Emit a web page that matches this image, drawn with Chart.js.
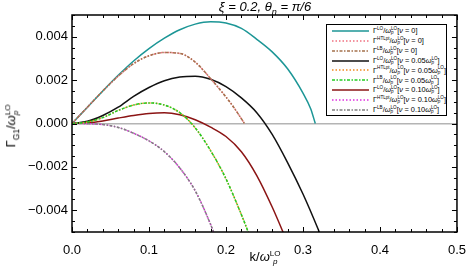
<!DOCTYPE html>
<html>
<head>
<meta charset="utf-8">
<script src="https://cdn.jsdelivr.net/npm/chart.js@4"></script>
<style>
  body { margin: 0; background: #fff; }
  #wrap { position: relative; width: 469px; height: 273px; font-family: "Liberation Sans", Arial, sans-serif; color: #000; }
  #title { position: absolute; left: 72px; width: 386px; top: -1px; text-align: center; font-size: 13px; font-style: italic; }
  #xtitle { position: absolute; left: 72px; width: 386px; top: 249px; text-align: center; font-size: 13px; }
  #ytitle { position: absolute; left: 12px; top: 126px; font-size: 13px; white-space: nowrap; transform: translate(-50%, -50%) rotate(-90deg); }
  .ss { display: inline-flex; flex-direction: column; vertical-align: middle; font-size: 0.62em; line-height: 0.95; }
  .ss i { font-style: italic; }
  #legend { position: absolute; left: 326px; top: 24px; width: 119px; height: 90px; border: 1px solid #000; background: #fff; font-size: 7.4px; }
  .row { position: absolute; left: 0; height: 10px; display: flex; align-items: center; white-space: nowrap; }
  .row svg { margin-left: 5px; margin-right: 4px; }
</style>
</head>
<body>
<div id="wrap">
  <canvas id="chart" width="469" height="273"></canvas>
  <div id="title">ξ = 0.2, θ<sub style="font-size:0.7em">n</sub> = π/6</div>
  <div id="xtitle">k/<i>ω</i><span class="ss"><span>LO</span><i>p</i></span></div>
  <div id="ytitle">Γ<sub style="font-size:0.65em">G1</sub>/<i>ω</i><span class="ss"><span>LO</span><i>p</i></span></div>
  <div id="legend"></div>
</div>
<script>
// k / omega_p^LO grids and Gamma / omega_p^LO values
const kLO0 = [0, 0.02, 0.04, 0.06, 0.08, 0.10, 0.12, 0.14, 0.16, 0.18, 0.20, 0.22, 0.24, 0.26, 0.28, 0.30, 0.31, 0.316];
const gLO0 = [0, 0.00075, 0.0015, 0.00222, 0.00288, 0.00345, 0.00393, 0.00432, 0.00458, 0.00469, 0.00463, 0.00438, 0.00388, 0.00330, 0.00252, 0.00140, 0.00068, 0];

const kLB0 = [0, 0.02, 0.04, 0.06, 0.08, 0.10, 0.12, 0.14, 0.16, 0.18, 0.20, 0.21, 0.22, 0.224];
const gLB0 = [0, 0.00075, 0.0015, 0.00218, 0.00276, 0.00312, 0.00327, 0.00323, 0.00283, 0.00207, 0.00122, 0.00075, 0.00022, 0];

const kLO05 = [0, 0.02, 0.04, 0.06, 0.08, 0.10, 0.12, 0.14, 0.16, 0.18, 0.20, 0.22, 0.24, 0.26, 0.28, 0.30, 0.32, 0.33];
const gLO05 = [0, 0.0001, 0.00037, 0.00075, 0.00125, 0.00166, 0.00197, 0.00214, 0.00218, 0.00204, 0.00170, 0.00118, 0.00050, -0.00050, -0.00180, -0.00325, -0.00490, -0.0058];

const kLB05 = [0, 0.02, 0.04, 0.06, 0.08, 0.10, 0.12, 0.14, 0.16, 0.18, 0.20, 0.22, 0.23];
const gLB05 = [0, 0.00007, 0.00027, 0.00060, 0.00085, 0.00095, 0.00085, 0.00050, -0.00020, -0.00125, -0.00255, -0.00420, -0.0051];

const kLO10 = [0, 0.02, 0.04, 0.06, 0.08, 0.10, 0.12, 0.14, 0.16, 0.18, 0.20, 0.22, 0.24, 0.26, 0.28];
const gLO10 = [0, 0.00003, 0.00012, 0.00025, 0.00037, 0.00046, 0.00049, 0.00040, 0.00017, -0.00017, -0.00060, -0.00130, -0.00240, -0.00385, -0.0055];

const kLB10 = [0, 0.02, 0.04, 0.06, 0.08, 0.10, 0.12, 0.14, 0.16, 0.18, 0.19];
const gLB10 = [0, -0.00001, -0.00005, -0.00018, -0.00045, -0.00080, -0.00130, -0.00205, -0.00310, -0.00465, -0.0056];

// HTLpt curves lie under the LB ones
const xTicks = [0.0, 0.1, 0.2, 0.3, 0.4, 0.5];
const yTicks = [-0.004, -0.002, 0.000, 0.002, 0.004];

const LO = '<span class="ss"><span>LO</span><i>p</i></span>';
const series = [
  { name: 'LO',    nu: '0',     k: kLO0,  g: gLO0,  color: '#1c9696', dash: [],               order: 2 },
  { name: 'HTLpt', nu: '0',     k: kLB0,  g: gLB0,  color: '#f07080', dash: [1.5, 2],         order: 1 },
  { name: 'LB',    nu: '0',     k: kLB0,  g: gLB0,  color: '#a4714c', dash: [3, 1.5, 1.5, 1.5], order: 0 },
  { name: 'LO',    nu: '0.05',  k: kLO05, g: gLO05, color: '#111111', dash: [],               order: 2 },
  { name: 'HTLpt', nu: '0.05',  k: kLB05, g: gLB05, color: '#f08a20', dash: [1.5, 2],         order: 1 },
  { name: 'LB',    nu: '0.05',  k: kLB05, g: gLB05, color: '#22cc22', dash: [3, 1.5, 1.5, 1.5], order: 0 },
  { name: 'LO',    nu: '0.10',  k: kLO10, g: gLO10, color: '#8b1414', dash: [],               order: 2 },
  { name: 'HTLpt', nu: '0.10',  k: kLB10, g: gLB10, color: '#e030e0', dash: [1.5, 2],         order: 1 },
  { name: 'LB',    nu: '0.10',  k: kLB10, g: gLB10, color: '#808080', dash: [3, 1.5, 1.5, 1.5], order: 0 }
];

function near(v, step) {
  return Math.abs(v / step - Math.round(v / step)) < 1e-6;
}

const frameTicks = {
  id: 'frameTicks',
  afterDatasetsDraw(chart) {
    const { ctx, chartArea: a, scales: { x, y } } = chart;
    ctx.save();
    ctx.strokeStyle = '#000';
    ctx.lineWidth = 1;
    ctx.beginPath();
    x.ticks.forEach(t => {
      const px = Math.round(x.getPixelForValue(t.value)) + 0.5;
      const len = near(t.value, 0.1) ? 5 : 3;
      ctx.moveTo(px, a.bottom); ctx.lineTo(px, a.bottom - len);
      ctx.moveTo(px, a.top); ctx.lineTo(px, a.top + len);
    });
    y.ticks.forEach(t => {
      const py = Math.round(y.getPixelForValue(t.value)) + 0.5;
      const len = near(t.value, 0.002) ? 5 : 3;
      ctx.moveTo(a.left, py); ctx.lineTo(a.left + len, py);
      ctx.moveTo(a.right, py); ctx.lineTo(a.right - len, py);
    });
    ctx.stroke();
    ctx.lineWidth = 1.5;
    ctx.strokeRect(a.left, a.top, a.right - a.left, a.bottom - a.top);
    ctx.restore();
  }
};

new Chart(document.getElementById('chart').getContext('2d'), {
  type: 'line',
  data: {
    datasets: series.map(s => ({
      label: s.name + ' ' + s.nu,
      data: s.k.map((k, i) => ({ x: k, y: s.g[i] })),
      borderColor: s.color,
      borderWidth: 1.5,
      borderDash: s.dash,
      order: s.order,
      pointRadius: 0,
      fill: false,
      cubicInterpolationMode: 'monotone'
    }))
  },
  options: {
    responsive: false,
    animation: false,
    layout: { padding: { top: 15, right: 11, left: 0, bottom: 0 } },
    plugins: { legend: { display: false }, tooltip: { enabled: false } },
    scales: {
      x: {
        type: 'linear', min: 0, max: 0.5,
        afterFit(scale) { scale.height = 41; },
        border: { display: false },
        grid: { display: false },
        ticks: {
          stepSize: 0.02, autoSkip: false, maxRotation: 0, padding: 3,
          color: '#000', font: { size: 13, family: '"Liberation Sans", Arial, sans-serif' },
          callback: v => xTicks.some(t => Math.abs(t - v) < 1e-9) ? v.toFixed(1) : ''
        }
      },
      y: {
        type: 'linear', min: -0.005, max: 0.005,
        afterFit(scale) { scale.width = 72; },
        border: { display: false },
        grid: {
          drawTicks: false,
          lineWidth: 1.5,
          color: c => Math.abs(c.tick.value) < 1e-9 ? '#b4b4b4' : 'rgba(0,0,0,0)'
        },
        ticks: {
          stepSize: 0.0005, autoSkip: false, padding: 4,
          color: '#000', font: { size: 13, family: '"Liberation Sans", Arial, sans-serif' },
          callback: v => {
            if (!yTicks.some(t => Math.abs(t - v) < 1e-9)) return '';
            const s = Math.abs(v).toFixed(3);
            return v < -1e-9 ? '\u2212' + s : s;
          }
        }
      }
    }
  },
  plugins: [frameTicks]
});

// legend box inside the plot
const legend = document.getElementById('legend');
series.forEach((s, i) => {
  const row = document.createElement('div');
  row.className = 'row';
  row.style.top = (1 + i * 9.85) + 'px';
  const nuText = s.nu === '0' ? '0' : s.nu + '<i>ω</i>' + LO;
  row.innerHTML =
    '<svg width="37" height="4"><line x1="0" y1="2" x2="37" y2="2" stroke="' + s.color +
    '" stroke-width="1.5" stroke-dasharray="' + (s.dash.length ? s.dash.join(' ') : 'none') + '"/></svg>' +
    '<span>Γ<span class="ss"><span>' + s.name + '</span><span>&nbsp;</span></span>/<i>ω</i>' + LO +
    '[<i>ν</i> = ' + nuText + ']</span>';
  legend.appendChild(row);
});
</script>
</body>
</html>
